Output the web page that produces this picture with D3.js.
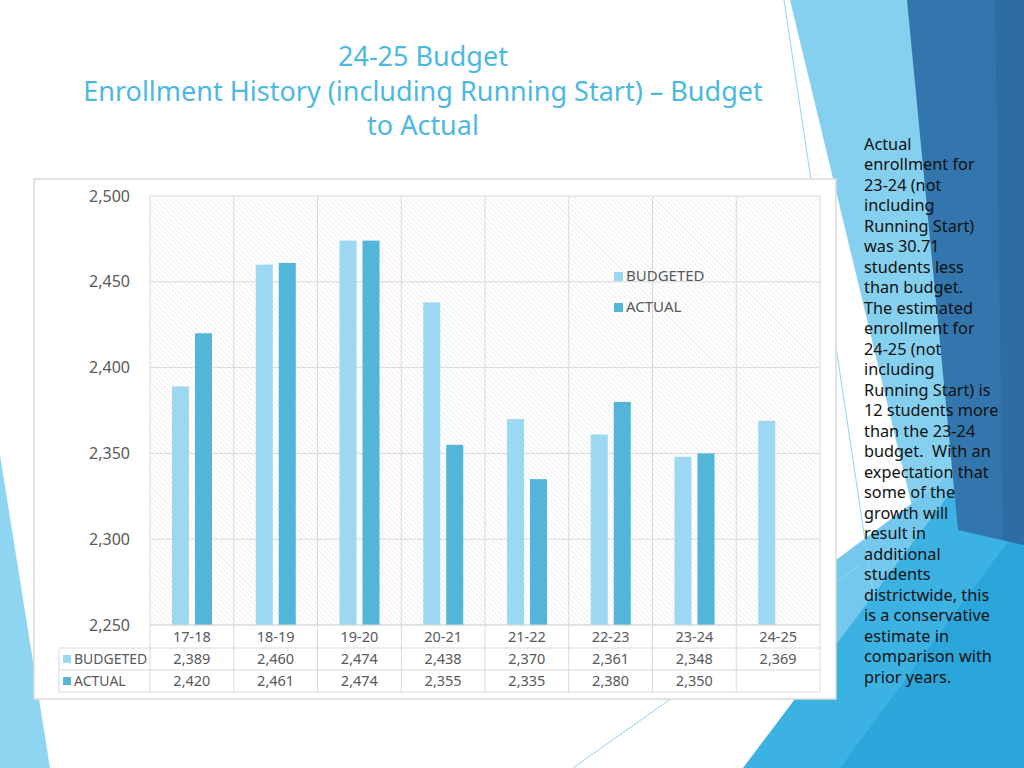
<!DOCTYPE html>
<html><head><meta charset="utf-8">
<script src="https://cdn.jsdelivr.net/npm/d3@7"></script>
<style>
html,body{margin:0;padding:0;background:#fff;}
svg{display:block;}
</style></head>
<body>
<svg id="c" width="1024" height="768"></svg>
<script>
const categories = ["17-18","18-19","19-20","20-21","21-22","22-23","23-24","24-25"];
const budgeted = [2389,2460,2474,2438,2370,2361,2348,2369];
const actual = [2420,2461,2474,2355,2335,2380,2350,null];
const seriesNames = ["BUDGETED","ACTUAL"];
const seriesColors = ["#9dd8f3","#53b5d7"];
const yTicks = [2250,2300,2350,2400,2450,2500];
const titleLines = ["24-25 Budget","Enrollment History (including Running Start) \u2013 Budget","to Actual"];
const noteLines = ["Actual","enrollment for","23-24 (not","including","Running Start)","was 30.71","students less","than budget.","The estimated","enrollment for","24-25 (not","including","Running Start) is","12 students more","than the 23-24","budget.  With an","expectation that","some of the","growth will","result in","additional","students","districtwide, this","is a conservative","estimate in","comparison with","prior years."];

const svg = d3.select("#c");
const defs = svg.append("defs");
const pat = defs.append("pattern").attr("id","hatch").attr("patternUnits","userSpaceOnUse")
  .attr("width",3.5).attr("height",3.5).attr("patternTransform","rotate(-45)");
pat.append("rect").attr("width",3.5).attr("height",3.5).attr("fill","#ffffff");
pat.append("line").attr("x1",0).attr("y1",0).attr("x2",0).attr("y2",3.5).attr("stroke","#e2e2e2").attr("stroke-width",1);

// background decoration
const bg = svg.append("g");
bg.append("polygon").attr("points","0,455 50,768 0,768").attr("fill","#8ed5f1");
bg.append("polygon").attr("points","790,0 1024,0 1024,768 975,768").attr("fill","#86d0ef");
bg.append("polygon").attr("points","836,560 1024,420 1024,768 836,768").attr("fill","#74c8ed");
bg.append("polygon").attr("points","743,768 1024,395 1024,768").attr("fill","#3cb2e2");
bg.append("polygon").attr("points","840,768 1024,520 1024,768").attr("fill","#2aa6db");
bg.append("polygon").attr("points","907,0 1024,0 1024,545 958,530").attr("fill","#3376ad");
bg.append("polygon").attr("points","995,0 1024,0 1024,545 1003,540").attr("fill","#2e6da4");
bg.append("line").attr("x1",784).attr("y1",0).attr("x2",874).attr("y2",600).attr("stroke","#8fd5f0").attr("stroke-width",1);
bg.append("line").attr("x1",573).attr("y1",768).attr("x2",860).attr("y2",565).attr("stroke","#8fd5f0").attr("stroke-width",1);

// title
const title = svg.append("g").attr("fill","#4db8e0").attr("font-family","'Noto Sans', sans-serif").attr("font-size",27).attr("text-anchor","middle");
[57,92,126].forEach((yy,i)=>{
  title.append("text").attr("x",423).attr("y",yy).attr("dy","0.35em").text(titleLines[i]);
});

// note text
const note = svg.append("g").attr("fill","#111").attr("font-family","'Noto Sans', sans-serif").attr("font-size",16.3);
noteLines.forEach((t,i)=>{
  note.append("text").attr("x",864).attr("y",144+i*20.5).attr("dy","0.35em").style("white-space","pre").text(t);
});

// chart box
svg.append("rect").attr("x",34).attr("y",179).attr("width",802).attr("height",520)
  .attr("fill","#fff").attr("stroke","#d9d9d9").attr("stroke-width",1.5);

const x = d3.scaleBand().domain(categories).range([150,820]);
const xi = d3.scaleBand().domain(seriesNames).range([22,62]).paddingInner(0.26);
const y = d3.scaleLinear().domain([2250,2500]).range([625,196]);

svg.append("rect").attr("x",150).attr("y",196).attr("width",670).attr("height",429).attr("fill","url(#hatch)");

const grid = svg.append("g").attr("stroke","#d9d9d9").attr("stroke-width",1);
yTicks.forEach(t=>grid.append("line").attr("x1",150).attr("x2",820).attr("y1",y(t)).attr("y2",y(t)));
categories.forEach(c=>grid.append("line").attr("x1",x(c)).attr("x2",x(c)).attr("y1",196).attr("y2",692));
grid.append("line").attr("x1",820).attr("x2",820).attr("y1",196).attr("y2",692);

// y axis
const yAxis = d3.axisLeft(y).tickValues(yTicks).tickFormat(d3.format(",")).tickSize(0).tickPadding(20);
const ya = svg.append("g").attr("transform","translate(150,0)").call(yAxis);
ya.select(".domain").remove();
ya.selectAll("text").attr("font-family","'Noto Sans', sans-serif").attr("font-size",16).attr("fill","#595959");

// bars
const data = categories.map((c,i)=>({c, vals:[budgeted[i],actual[i]]}));
const groups = svg.append("g").selectAll("g").data(data).join("g").attr("transform",d=>`translate(${x(d.c)},0)`);
groups.selectAll("rect").data(d=>d.vals.map((v,j)=>({v,s:seriesNames[j],j})).filter(e=>e.v!=null))
  .join("rect").attr("x",e=>xi(e.s)).attr("width",xi.bandwidth())
  .attr("y",e=>y(e.v)).attr("height",e=>y(2250)-y(e.v)).attr("fill",e=>seriesColors[e.j]);

// legend
const leg = svg.append("g").attr("font-family","'Noto Sans', sans-serif").attr("font-size",15).attr("fill","#595959");
seriesNames.forEach((s,i)=>{
  const yy = 276 + i*31;
  leg.append("rect").attr("x",614).attr("y",yy-4).attr("width",9).attr("height",9).attr("fill",seriesColors[i]);
  leg.append("text").attr("x",626).attr("y",yy).attr("dy","0.35em").text(s);
});

// data table
const tbl = svg.append("g").attr("font-family","'Noto Sans', sans-serif").attr("font-size",14.5).attr("fill","#595959");
const rowY = [625,648,670,692];
const tl = svg.append("g").attr("stroke","#d9d9d9").attr("stroke-width",1);
tl.append("line").attr("x1",150).attr("x2",820).attr("y1",625).attr("y2",625);
[648,670,692].forEach(r=>tl.append("line").attr("x1",59).attr("x2",820).attr("y1",r).attr("y2",r));
tl.append("line").attr("x1",59).attr("x2",59).attr("y1",648).attr("y2",692);
categories.forEach(c=>{
  tbl.append("text").attr("x",x(c)+x.bandwidth()/2).attr("y",637).attr("dy","0.35em").attr("text-anchor","middle").text(c);
});
[budgeted,actual].forEach((arr,k)=>{
  const cy = (rowY[k+1]+rowY[k+2])/2;
  tbl.append("rect").attr("x",63).attr("y",cy-4).attr("width",8).attr("height",8).attr("fill",seriesColors[k]);
  tbl.append("text").attr("x",74).attr("y",cy).attr("dy","0.35em").attr("font-size",14).text(seriesNames[k]);
  arr.forEach((v,i)=>{
    if(v==null) return;
    tbl.append("text").attr("x",x(categories[i])+x.bandwidth()/2).attr("y",cy).attr("dy","0.35em").attr("text-anchor","middle").text(d3.format(",")(v));
  });
});
</script>
</body></html>
